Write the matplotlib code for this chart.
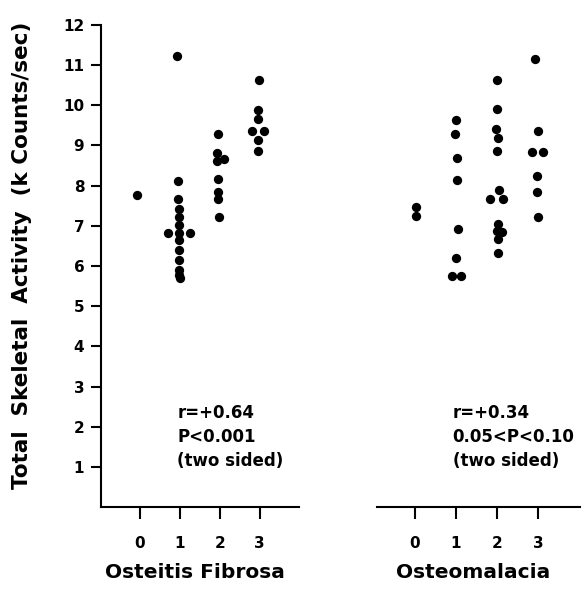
import matplotlib
matplotlib.use("Agg")
import matplotlib.pyplot as plt

plt.rcParams['font.family'] = ['DejaVu Sans']
plt.rcParams['font.weight'] = 'bold'

# Osteitis Fibrosa: grade (with small jitter) and activity
fib_x = [-0.07,
         0.93, 0.95, 0.97, 0.98, 0.98, 0.98, 0.98, 0.71, 1.26, 0.98, 0.98, 0.98, 0.98, 0.99, 1.0,
         1.95, 1.94, 2.1, 1.93, 1.95, 1.97, 1.96, 1.98,
         2.98, 2.96, 2.96, 2.8, 3.1, 2.95, 2.95]
fib_y = [7.76,
         11.23, 8.11, 7.66, 7.43, 7.22, 7.01, 6.83, 6.83, 6.83, 6.64, 6.39, 6.16, 5.89, 5.78, 5.70,
         9.29, 8.80, 8.67, 8.61, 8.17, 7.85, 7.66, 7.21,
         10.62, 9.88, 9.67, 9.36, 9.36, 9.13, 8.86]

# Osteomalacia
mal_x = [0.02, 0.02,
         0.99, 0.97, 1.02, 1.03, 1.05, 1.0, 0.9, 1.12,
         1.99, 1.99, 1.97, 2.02, 1.99, 2.04, 1.82, 2.15, 2.02, 1.99, 2.13, 2.03, 2.03,
         2.92, 3.0, 2.85, 3.12, 2.97, 2.97, 3.0]
mal_y = [7.46, 7.24,
         9.64, 9.28, 8.68, 8.14, 6.93, 6.19, 5.74, 5.74,
         10.63, 9.90, 9.42, 9.19, 8.86, 7.90, 7.68, 7.68, 7.05, 6.87, 6.84, 6.68, 6.33,
         11.16, 9.37, 8.84, 8.84, 8.25, 7.83, 7.22]

grades = [0, 1, 2, 3]
y_ticks = list(range(1, 13))

fig = plt.figure(figsize=(5.87, 6.06), dpi=100)

ax1 = fig.add_axes([0.172, 0.163, 0.337, 0.796])
ax2 = fig.add_axes([0.642, 0.163, 0.346, 0.796])

for ax, xs, ys, xl in [(ax1, fib_x, fib_y, (-0.97, 3.98)),
                       (ax2, mal_x, mal_y, (-0.93, 4.02))]:
    ax.plot(xs, ys, 'o', color='black', markersize=6.7, markeredgewidth=0)
    ax.set_xlim(*xl)
    ax.set_ylim(0, 12)
    ax.spines['top'].set_visible(False)
    ax.spines['right'].set_visible(False)
    ax.spines['bottom'].set_linewidth(1.5)
    ax.set_xticks(grades)
    ax.set_xticklabels([str(g) for g in grades], fontsize=11, fontweight='bold')
    ax.tick_params(axis='x', direction='out', length=8.5, width=1.5, pad=12)

ax1.spines['left'].set_linewidth(1.5)
ax1.set_yticks(y_ticks)
ax1.set_yticklabels([str(t) for t in y_ticks], fontsize=11, fontweight='bold')
ax1.tick_params(axis='y', direction='out', length=7, width=1.5, pad=5)

ax2.spines['left'].set_visible(False)
ax2.set_yticks([])

fig.text(0.038, 0.578, 'Total  Skeletal  Activity  (k Counts/sec)', rotation=90,
         ha='center', va='center', fontsize=15.5, fontweight='bold')

fig.text(0.302, 0.279, 'r=+0.64\nP<0.001\n(two sided)', ha='left', va='center',
         fontsize=12, fontweight='bold', linespacing=1.45)
fig.text(0.771, 0.279, 'r=+0.34\n0.05<P<0.10\n(two sided)', ha='left', va='center',
         fontsize=12, fontweight='bold', linespacing=1.45)

fig.text(0.332, 0.056, 'Osteitis Fibrosa', ha='center', va='center',
         fontsize=14.5, fontweight='bold')
fig.text(0.806, 0.056, 'Osteomalacia', ha='center', va='center',
         fontsize=14.5, fontweight='bold')

fig.savefig('out.png', dpi=100)
